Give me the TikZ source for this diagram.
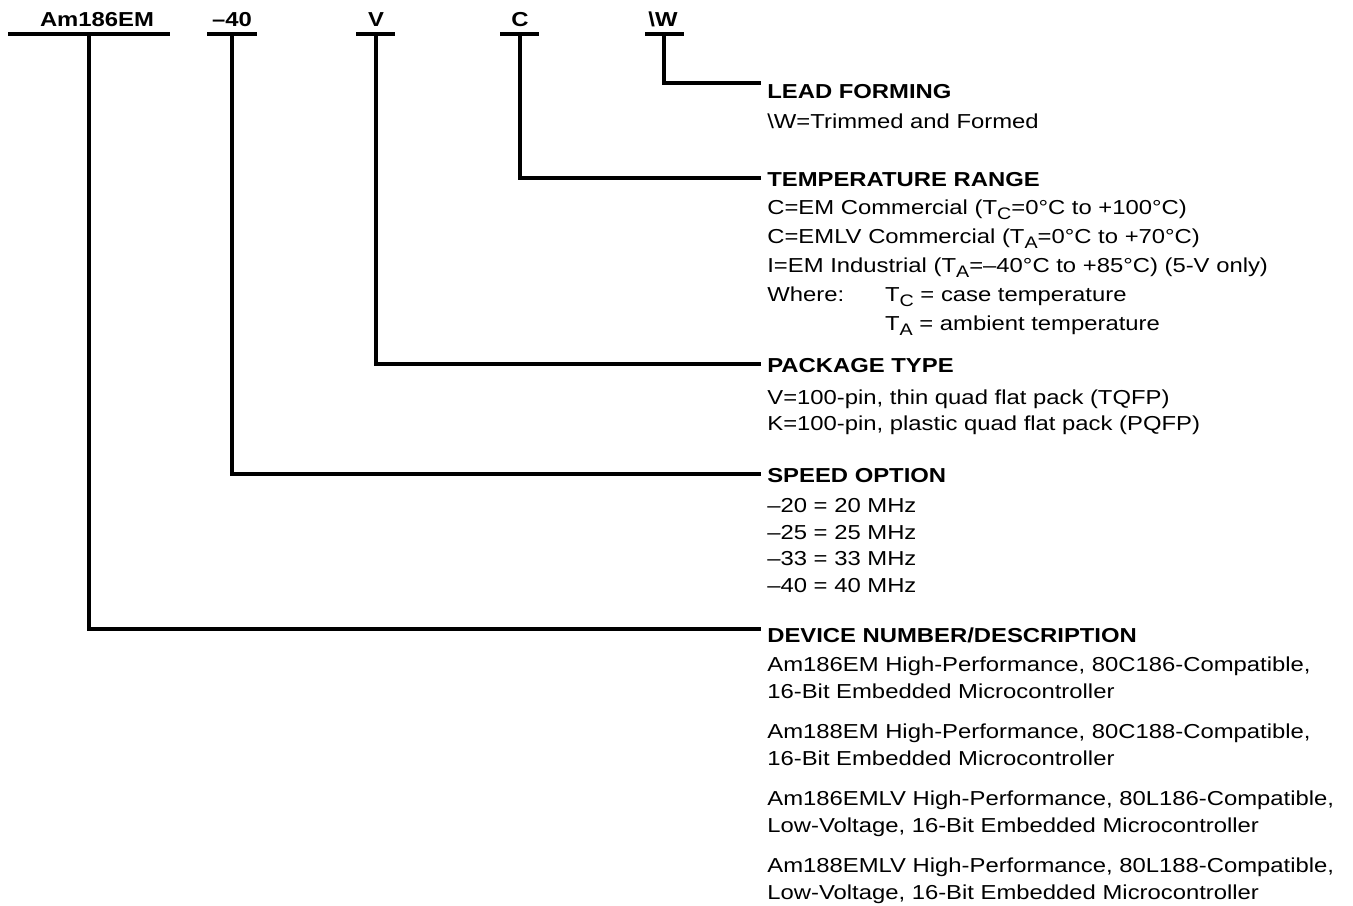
\documentclass[tikz,border=0pt]{standalone}
\usepackage{fontspec}
\setmainfont{Liberation Sans}[FakeStretch=1.18]
\newcommand{\lowsub}[1]{\raisebox{-2.6pt}{\fontsize{9.5pt}{9.5pt}\selectfont #1}}

\begin{document}
\begin{tikzpicture}[x=0.02cm, y=-0.02cm,
    part/.style={font=\bfseries, anchor=base, inner sep=0pt},
    head/.style={font=\bfseries, anchor=west, inner xsep=3.4pt, inner ysep=0pt, text height=8.25pt, text depth=0pt},
    info/.style={anchor=north west, align=left, inner sep=0pt},
    bar/.style={line width=1.8pt},
    leg/.style={line width=1.8pt}]

    \fontsize{11.5pt}{15pt}\selectfont
    \useasboundingbox (0,0) rectangle (1353,906);

    % 1. Teile der Bestellnummer
    \node[part] (am)  at (97,27)  {Am186EM};
    \node[part] (spd) at (232,27) {--40};
    \node[part] (pkg) at (376,27) {V};
    \node[part] (tmp) at (520,27) {C};
    \node[part] (frm) at (663,27) {\textbackslash W};

    % 2. Striche unter den Teilen
    \draw[bar] (8,34) -- (170,34);
    \draw[bar] (207,34) -- (257,34);
    \draw[bar] (356,34) -- (395,34);
    \draw[bar] (500,34) -- (539,34);
    \draw[bar] (645,34) -- (684,34);

    \coordinate (am-x)  at (89,34);
    \coordinate (spd-x) at (232,34);
    \coordinate (pkg-x) at (376,34);
    \coordinate (tmp-x) at (520,34);
    \coordinate (frm-x) at (664,34);

    % 3. Ueberschriften
    \node[head] (lead)  at (761,91.5)  {LEAD FORMING};
    \node[head] (temp)  at (761,179.5) {TEMPERATURE RANGE};
    \node[head] (pack)  at (761,365)   {PACKAGE TYPE};
    \node[head] (speed) at (761,475.5) {SPEED OPTION};
    \node[head] (dev)   at (761,635.5) {DEVICE NUMBER/DESCRIPTION};

    % 4. Verbindungslinien
    \draw[leg] (frm-x) |- ([yshift=4.8pt]lead.west);
    \draw[leg] (tmp-x) |- ([yshift=0.9pt]temp.west);
    \draw[leg] (pkg-x) |- ([yshift=0.6pt]pack.west);
    \draw[leg] (spd-x) |- ([yshift=0.9pt]speed.west);
    \draw[leg] (am-x)  |- ([yshift=3.7pt]dev.west);

    % 5. Erlaeuterungen
    \node[info] (lead-t) at (767,113.5) {\textbackslash W=Trimmed and Formed};
    \node[info, font={\fontsize{11.5pt}{16.5pt}\selectfont}] (temp-t) at (767,199.5)
        {C=EM Commercial (T\lowsub{C}=0°C to +100°C)\\
         C=EMLV Commercial (T\lowsub{A}=0°C to +70°C)\\
         I=EM Industrial (T\lowsub{A}=--40°C to +85°C) (5-V only)\\
         \makebox[67pt][l]{Where:}T\lowsub{C} = case temperature\\
         \hspace*{67pt}T\lowsub{A} = ambient temperature};
    \node[info, font={\fontsize{11.5pt}{14.8pt}\selectfont}] (pack-t) at (767,389.5)
        {V=100-pin, thin quad flat pack (TQFP)\\
         K=100-pin, plastic quad flat pack (PQFP)};
    \node[info] (speed-t) at (767,498.5)
        {--20 = 20 MHz\\
         --25 = 25 MHz\\
         --33 = 33 MHz\\
         --40 = 40 MHz};
    \node[info, font={\fontsize{11.5pt}{15.4pt}\selectfont}] (dev-t) at (767,656.5)
        {Am186EM High-Performance, 80C186-Compatible,\\
         16-Bit Embedded Microcontroller\\[7.4pt]
         Am188EM High-Performance, 80C188-Compatible,\\
         16-Bit Embedded Microcontroller\\[7.4pt]
         Am186EMLV High-Performance, 80L186-Compatible,\\
         Low-Voltage, 16-Bit Embedded Microcontroller\\[7.4pt]
         Am188EMLV High-Performance, 80L188-Compatible,\\
         Low-Voltage, 16-Bit Embedded Microcontroller};

\end{tikzpicture}
\end{document}
